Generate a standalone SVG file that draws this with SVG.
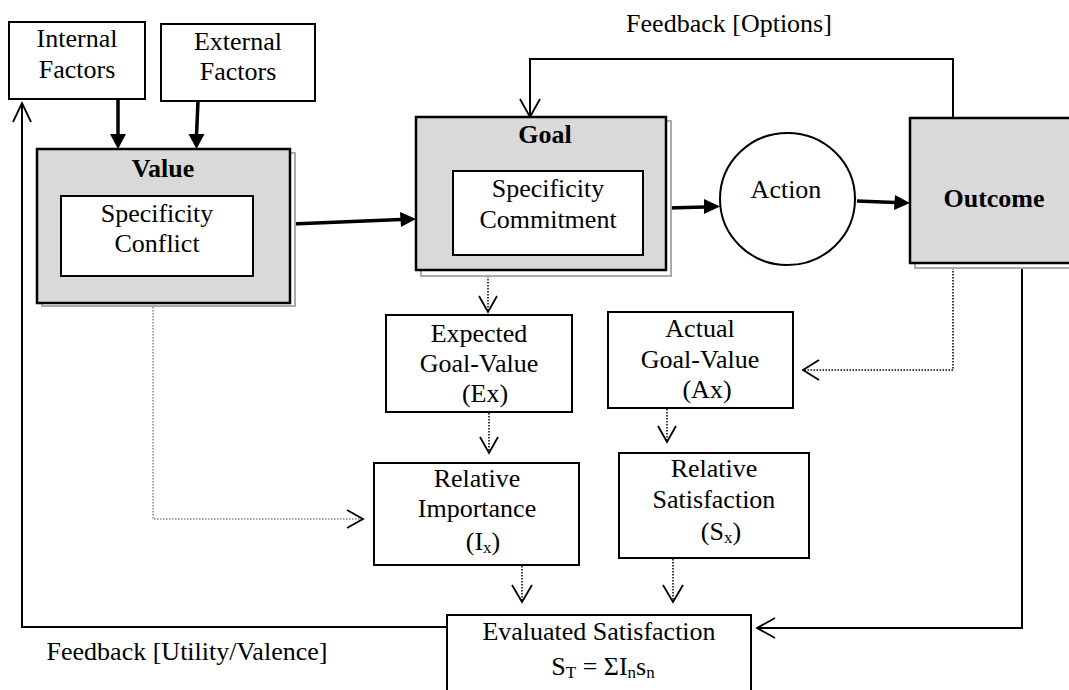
<svg xmlns="http://www.w3.org/2000/svg" width="1069" height="690" viewBox="0 0 1069 690">
<style>
text{font-family:"Liberation Serif","Times New Roman",serif;font-size:26px;fill:#000;text-anchor:middle}
.b{font-weight:bold}
.box{fill:#fff;stroke:#000;stroke-width:2}
.gbox{fill:#d9d9d9;stroke:#000;stroke-width:2.5}
.shadow{fill:#fff;stroke:#aaa;stroke-width:2}
.thick{fill:none;stroke:#000;stroke-width:3.5}
.solid{fill:none;stroke:#000;stroke-width:2}
.dot{fill:none;stroke:#000;stroke-width:1.5;stroke-dasharray:1.5 1.5}
.gdot{fill:none;stroke:#888;stroke-width:1.5;stroke-dasharray:1.5 1.5}
.open{fill:none;stroke:#000;stroke-width:1.8}
.head{fill:#000}
</style>
<defs>
<marker id="fill" viewBox="0 0 10 10" refX="10" refY="5" markerWidth="4.3" markerHeight="4.3" orient="auto" markerUnits="strokeWidth"><path d="M0,0 L10,5 L0,10 z" fill="#000"/></marker>
</defs>
<rect width="1069" height="690" fill="#fff"/>

<g id="connectors">
<!-- factors to value -->
<line class="thick" x1="118" y1="99" x2="118" y2="135"/>
<path class="head" d="M110,134 L126,134 L118,149 z"/>
<line class="thick" x1="198" y1="101" x2="196.5" y2="135"/>
<path class="head" d="M188.5,134 L204.5,134 L196.5,149 z"/>
<!-- value to goal -->
<line class="thick" x1="292" y1="224" x2="401" y2="219.5"/>
<path class="head" d="M400,212 L416,219 L401,227 z"/>
<!-- goal to action -->
<line class="thick" x1="668" y1="208" x2="705" y2="207"/>
<path class="head" d="M704,199 L720,206.5 L704,214 z"/>
<!-- action to outcome -->
<line class="thick" x1="857" y1="201" x2="895" y2="202.5"/>
<path class="head" d="M895,195 L910,203 L894,210 z"/>
<!-- feedback options -->
<polyline class="solid" points="953,118 953,59 530,59 530,116"/>
<polyline class="open" points="520,99 530,117 540,99"/>
<!-- goal to expected -->
<line class="dot" x1="488" y1="276" x2="488" y2="311"/>
<polyline class="open" points="479,296 488,312 497,296"/>
<!-- expected to RI -->
<line class="dot" x1="489" y1="413" x2="489" y2="452"/>
<polyline class="open" points="480,437 489,453 498,437"/>
<!-- actual to RS -->
<line class="dot" x1="667" y1="409" x2="667" y2="441"/>
<polyline class="open" points="658,426 667,442 676,426"/>
<!-- RI to ES -->
<line class="dot" x1="522" y1="566" x2="522" y2="601"/>
<polyline class="open" points="512,585 522,602 532,585"/>
<!-- RS to ES -->
<line class="dot" x1="673" y1="559" x2="673" y2="601"/>
<polyline class="open" points="663,585 673,602 683,585"/>
<!-- outcome to actual -->
<polyline class="dot" points="953,268 953,370 804,370"/>
<polyline class="open" points="819,360 803,370 819,380"/>
<!-- outcome to ES -->
<polyline class="solid" points="1022,268 1022,628 758,628"/>
<polyline class="open" points="775,618 757,628 775,638"/>
<!-- value to RI -->
<polyline class="gdot" points="153,307 153,519 362,519"/>
<polyline class="open" points="347,510 363,519 347,528"/>
<!-- feedback utility -->
<polyline class="solid" points="447,627 22,627 22,104"/>
<polyline class="open" points="13,122 22,103 31,122"/>
</g>

<g id="internal">
<rect class="box" x="9" y="22" width="136" height="77"/>
<text x="77" y="47">Internal</text>
<text x="77" y="78">Factors</text>
</g>
<g id="external">
<rect class="box" x="161" y="24" width="154" height="77"/>
<text x="238" y="50">External</text>
<text x="238" y="80">Factors</text>
</g>
<g id="value">
<rect class="shadow" x="42" y="153" width="253" height="153"/>
<rect class="gbox" x="37" y="149" width="253" height="154"/>
<text class="b" x="163" y="177">Value</text>
<rect class="box" x="61" y="196" width="192" height="80"/>
<text x="157" y="222">Specificity</text>
<text x="157" y="252">Conflict</text>
</g>
<g id="goal">
<rect class="shadow" x="421" y="121" width="250" height="155"/>
<rect class="gbox" x="416" y="117" width="250" height="153"/>
<text class="b" x="545" y="143">Goal</text>
<rect class="box" x="453" y="171" width="190" height="84"/>
<text x="548" y="197">Specificity</text>
<text x="548" y="228">Commitment</text>
</g>
<g id="action">
<ellipse cx="787.5" cy="199" rx="67.5" ry="66" fill="#fff" stroke="#000" stroke-width="2"/>
<text x="786" y="198">Action</text>
</g>
<g id="outcome">
<rect class="shadow" x="915" y="122" width="170" height="146"/>
<rect class="gbox" x="910" y="118" width="170" height="145"/>
<text class="b" x="994" y="207">Outcome</text>
</g>
<g id="expected">
<rect class="box" x="386" y="315" width="186" height="97"/>
<text x="479" y="342">Expected</text>
<text x="479" y="372">Goal-Value</text>
<text x="485" y="402">(Ex)</text>
</g>
<g id="actual">
<rect class="box" x="608" y="312" width="185" height="96"/>
<text x="700" y="337">Actual</text>
<text x="700" y="368">Goal-Value</text>
<text x="707" y="398">(Ax)</text>
</g>
<g id="rel-importance">
<rect class="box" x="374" y="463" width="205" height="102"/>
<text x="477" y="487">Relative</text>
<text x="477" y="517">Importance</text>
<text x="483" y="550">(I<tspan font-size="17" dy="3">x</tspan><tspan dy="-3">)</tspan></text>
</g>
<g id="rel-satisfaction">
<rect class="box" x="619" y="453" width="190" height="105"/>
<text x="714" y="477">Relative</text>
<text x="714" y="508">Satisfaction</text>
<text x="721" y="540">(S<tspan font-size="17" dy="3">x</tspan><tspan dy="-3">)</tspan></text>
</g>
<g id="evaluated">
<rect class="box" x="447" y="615" width="304" height="90"/>
<text x="599" y="640">Evaluated Satisfaction</text>
<text x="603" y="675">S<tspan font-size="17" dy="3">T</tspan><tspan dy="-3"> = ΣI</tspan><tspan font-size="17" dy="3">n</tspan><tspan dy="-3">s</tspan><tspan font-size="17" dy="3">n</tspan></text>
</g>
<g id="labels">
<text x="729" y="32">Feedback [Options]</text>
<text x="187" y="660">Feedback [Utility/Valence]</text>
</g>
</svg>
